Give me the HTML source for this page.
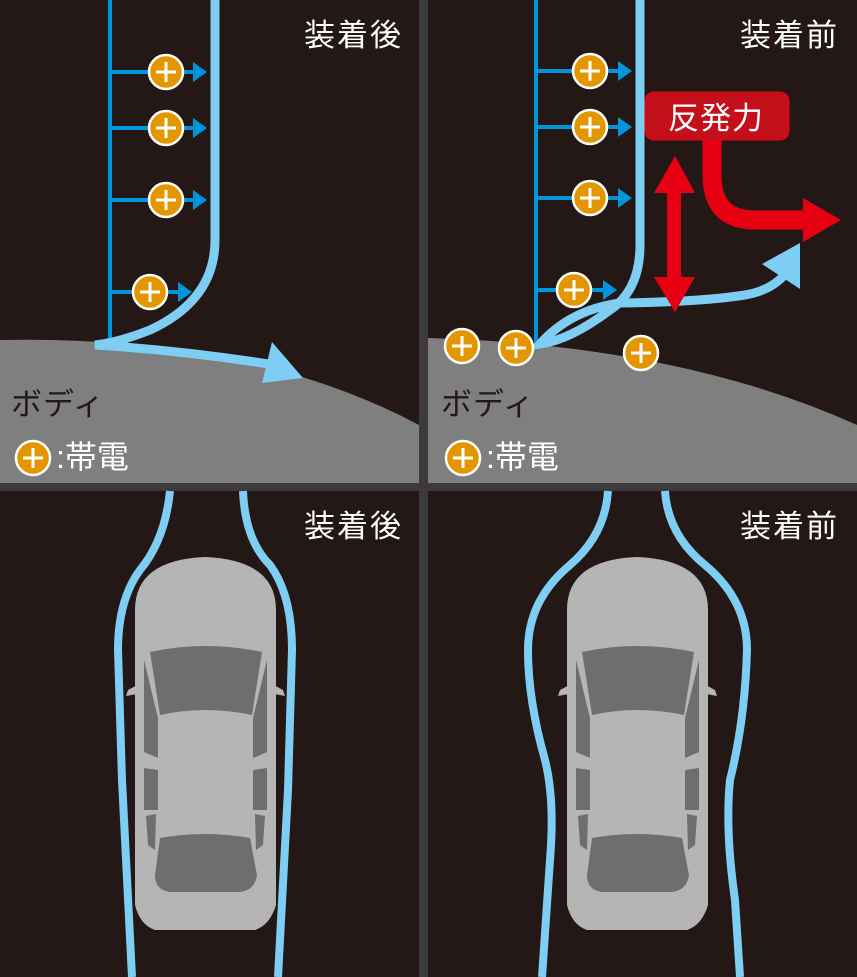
<!DOCTYPE html>
<html><head><meta charset="utf-8"><style>
html,body{margin:0;padding:0;background:#3c3a3a;}
svg{display:block}
text{font-family:"Liberation Sans","Noto Sans CJK JP",sans-serif;}
</style></head><body>
<svg width="857" height="977" viewBox="0 0 857 977" xmlns="http://www.w3.org/2000/svg">
<defs>
<g id="plus"><circle r="17" fill="#e39600" stroke="#fff" stroke-width="2.5"/><path d="M-10 0H10M0 -10V10" stroke="#fff" stroke-width="3"/></g>
<g id="car">
<path d="M135 610 Q135 560 205 557 Q276 560 276 610 L276 905 Q270 925 255 930 L155 930 Q140 925 135 905 Z" fill="#b5b5b5"/>
<path d="M150 652 Q205 640 262 652 L252 715 Q205 705 160 715 Z" fill="#6e6e6e"/>
<path d="M160 838 Q205 830 250 838 L257 875 Q255 890 240 892 L170 892 Q155 890 155 875 Z" fill="#6e6e6e"/>
<path d="M144 660 L158 718 L158 758 L144 752 Z M144 768 L158 770 L158 810 L144 810 Z M146 816 L156 814 L155 850 L148 845 Z" fill="#6e6e6e"/>
<path d="M267 660 L253 718 L253 758 L267 752 Z M267 768 L253 770 L253 810 L267 810 Z M265 816 L255 814 L256 850 L263 845 Z" fill="#6e6e6e"/>
<path d="M143 682 L128 690 L126 696 L142 693 Z M268 682 L283 690 L285 696 L269 693 Z" fill="#b5b5b5"/>
</g>
</defs>
<rect x="0" y="0" width="419" height="483" fill="#231815"/>
<rect x="428" y="0" width="429" height="483" fill="#231815"/>
<rect x="0" y="491" width="419" height="486" fill="#231815"/>
<rect x="428" y="491" width="429" height="486" fill="#231815"/>

<!-- top-left -->
<path d="M0 340 Q250 335 419 425 L419 483 L0 483 Z" fill="#7f7f7f"/>
<path d="M110 0V345" stroke="#0095d9" stroke-width="4"/>
<g stroke="#0095d9" stroke-width="4"><path d="M110 72H195M110 128H195M110 200H195M110 292H180"/></g>
<g fill="#0095d9"><path d="M193 62L207 72L193 82Z M193 118L207 128L193 138Z M193 190L207 200L193 210Z M178 282L192 292L178 302Z"/></g>
<use href="#plus" x="166" y="72"/><use href="#plus" x="166" y="128"/><use href="#plus" x="166" y="200"/><use href="#plus" x="150" y="292"/>
<path d="M215 0V240 Q215 300 150 330 Q120 342 95 345 Q180 350 275 365" stroke="#7ecef4" stroke-width="9" fill="none"/>
<path d="M262 383 L272 342 L303 378 Z" fill="#7ecef4"/>
<text x="304" y="46" font-size="31" letter-spacing="2" fill="#fff">装着後</text>
<text x="11" y="415" font-size="31" letter-spacing="1" fill="#231815">ボディ</text>
<use href="#plus" x="33" y="458"/>
<text x="56" y="468" font-size="32" fill="#fff">:帯電</text>

<!-- top-right -->
<path d="M428 338 Q680 345 857 425 L857 483 L428 483 Z" fill="#7f7f7f"/>
<path d="M536 0V345" stroke="#0095d9" stroke-width="4"/>
<g stroke="#0095d9" stroke-width="4"><path d="M536 71H620M536 127H620M536 198H620M536 290H605"/></g>
<g fill="#0095d9"><path d="M618 61L632 71L618 81Z M618 117L632 127L618 137Z M618 188L632 198L618 208Z M603 280L617 290L603 300Z"/></g>
<use href="#plus" x="590" y="71"/><use href="#plus" x="590" y="127"/><use href="#plus" x="590" y="198"/><use href="#plus" x="574" y="290"/>
<path d="M640 0V245 Q640 290 610 310 Q570 340 540 344 Q570 310 620 303 Q700 302 745 295 Q775 290 790 268" stroke="#7ecef4" stroke-width="9" fill="none"/>
<path d="M762 264 L800 243 L800 289 Z" fill="#7ecef4"/>
<use href="#plus" x="462" y="346"/><use href="#plus" x="516" y="348"/><use href="#plus" x="641" y="353"/>
<path d="M674 180V290" stroke="#e60012" stroke-width="14"/>
<path d="M654 193 L675 156 L695 193 Z M654 277 L675 312 L695 277 Z" fill="#e60012"/>
<path d="M712 138 V175 Q712 220 755 220 H805" stroke="#e60012" stroke-width="19" fill="none"/>
<path d="M803 198 L841 220 L803 242 Z" fill="#e60012"/>
<rect x="645" y="92" width="144" height="48" rx="9" fill="#c4101b" stroke="#e60012"/>
<text x="668" y="129" font-size="31" letter-spacing="1" fill="#fff">反発力</text>
<text x="740" y="46" font-size="31" letter-spacing="2" fill="#fff">装着前</text>
<text x="441" y="415" font-size="31" letter-spacing="1" fill="#231815">ボディ</text>
<use href="#plus" x="463" y="458"/>
<text x="486" y="468" font-size="32" fill="#fff">:帯電</text>

<!-- bottom-left -->
<path d="M170 491 Q165 540 140 570 Q118 600 118 650 L122 780 L132 977" stroke="#7ecef4" stroke-width="8" fill="none"/>
<path d="M243 491 Q245 540 270 565 Q292 595 292 650 L288 790 L278 977" stroke="#7ecef4" stroke-width="8" fill="none"/>
<use href="#car"/>
<text x="304" y="537" font-size="31" letter-spacing="2" fill="#fff">装着後</text>

<!-- bottom-right -->
<path d="M608 491 Q605 535 570 565 Q528 600 528 650 Q528 700 545 760 Q555 800 550 860 L542 977" stroke="#7ecef4" stroke-width="8" fill="none"/>
<path d="M665 491 Q668 535 705 565 Q747 600 747 650 Q745 720 730 780 Q725 830 735 900 L740 977" stroke="#7ecef4" stroke-width="8" fill="none"/>
<use href="#car" x="432"/>
<text x="740" y="537" font-size="31" letter-spacing="2" fill="#fff">装着前</text>
</svg>
</body></html>
